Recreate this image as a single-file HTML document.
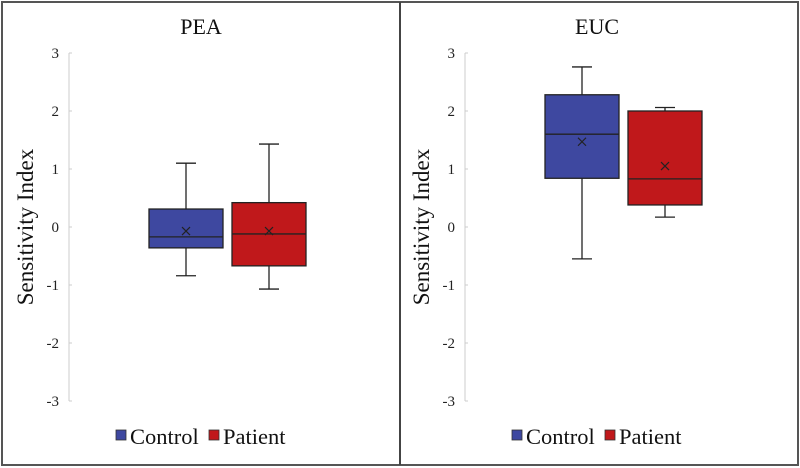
<!DOCTYPE html>
<html><head><meta charset="utf-8"><style>
body{margin:0;background:#fff;}
svg{display:block;font-family:"Liberation Serif",serif;}
</style></head><body>
<svg id="c" width="800" height="468">
<rect x="2" y="2" width="796" height="463" fill="#fff" stroke="#555" stroke-width="2"/>
<line x1="400" y1="2" x2="400" y2="465" stroke="#444" stroke-width="2"/>
</svg>
<script>
const panels=["PEA","EUC"];
const groups=["Control","Patient"];
const ticks=[3,2,1,0,-1,-2,-3];
const whiskerLow=[[-0.84,-1.07],[-0.55,0.17]];
const q1=[[-0.36,-0.67],[0.84,0.38]];
const median=[[-0.17,-0.12],[1.60,0.83]];
const q3=[[0.31,0.42],[2.28,2.00]];
const whiskerHigh=[[1.10,1.43],[2.76,2.06]];
const mean=[[-0.07,-0.07],[1.47,1.05]];
const colors=["#3e48a0","#c0181b"];
const NS="http://www.w3.org/2000/svg";
const svg=document.getElementById('c');
function el(t,a,p){const e=document.createElementNS(NS,t);for(const k in a)e.setAttribute(k,a[k]);(p||svg).appendChild(e);return e;}
function y(v){return 227-v*58;}
panels.forEach((name,p)=>{
  const ox=p*396;
  const axX=69+ox;
  const g=el('g',{});
  
  
  const t=el('text',{x:201+ox,y:34,'text-anchor':'middle','font-size':22,fill:'#111'},g);
  t.textContent=name;
  
  
  const ax=el('line',{x1:axX,y1:y(3),x2:axX,y2:y(-3),stroke:'#ccc','stroke-width':1},g);
  
  
  ticks.forEach(v=>{
    el('line',{x1:axX,y1:y(v),x2:axX+3,y2:y(v),stroke:'#ccc'},g);
    const tl=el('text',{x:axX-10,y:y(v)+5,'text-anchor':'end','font-size':15,fill:'#222'},g);
    tl.textContent=String(v);
    
    
  });
  const yt=el('text',{x:0,y:0,'text-anchor':'middle','font-size':23,fill:'#111',transform:`translate(${33+ox},${y(0)}) rotate(-90)`},g);
  yt.textContent='Sensitivity Index';
  
  
  groups.forEach((gr,i)=>{
    const x0=149+ox+i*83, w=74, cx=x0+w/2;
    const b=el('g',{},g);
    
    
    el('line',{x1:cx,y1:y(whiskerHigh[p][i]),x2:cx,y2:y(q3[p][i]),stroke:'#222','stroke-width':1.3},b);
    el('line',{x1:cx,y1:y(q1[p][i]),x2:cx,y2:y(whiskerLow[p][i]),stroke:'#222','stroke-width':1.3},b);
    el('line',{x1:cx-10,y1:y(whiskerHigh[p][i]),x2:cx+10,y2:y(whiskerHigh[p][i]),stroke:'#222','stroke-width':1.3},b);
    el('line',{x1:cx-10,y1:y(whiskerLow[p][i]),x2:cx+10,y2:y(whiskerLow[p][i]),stroke:'#222','stroke-width':1.3},b);
    el('rect',{x:x0,y:y(q3[p][i]),width:w,height:y(q1[p][i])-y(q3[p][i]),fill:colors[i],stroke:'#222','stroke-width':1.3},b);
    el('line',{x1:x0,y1:y(median[p][i]),x2:x0+w,y2:y(median[p][i]),stroke:'#222','stroke-width':1.3},b);
    const my=y(mean[p][i]);
    el('path',{d:`M${cx-4},${my-4}L${cx+4},${my+4}M${cx-4},${my+4}L${cx+4},${my-4}`,stroke:'#222','stroke-width':1.2,fill:'none'},b);
  });
  const lg=el('g',{},g);
  
  
  const lx=[116,209];
  groups.forEach((gr,i)=>{
    const e=el('g',{},lg);
    
    
    el('rect',{x:lx[i]+ox,y:430,width:10,height:10,fill:colors[i],stroke:'#333','stroke-width':0.8},e);
    const tt=el('text',{x:lx[i]+ox+14,y:444,'font-size':22.5,fill:'#111'},e);
    tt.textContent=gr;
  });
});
</script>
</body></html>
